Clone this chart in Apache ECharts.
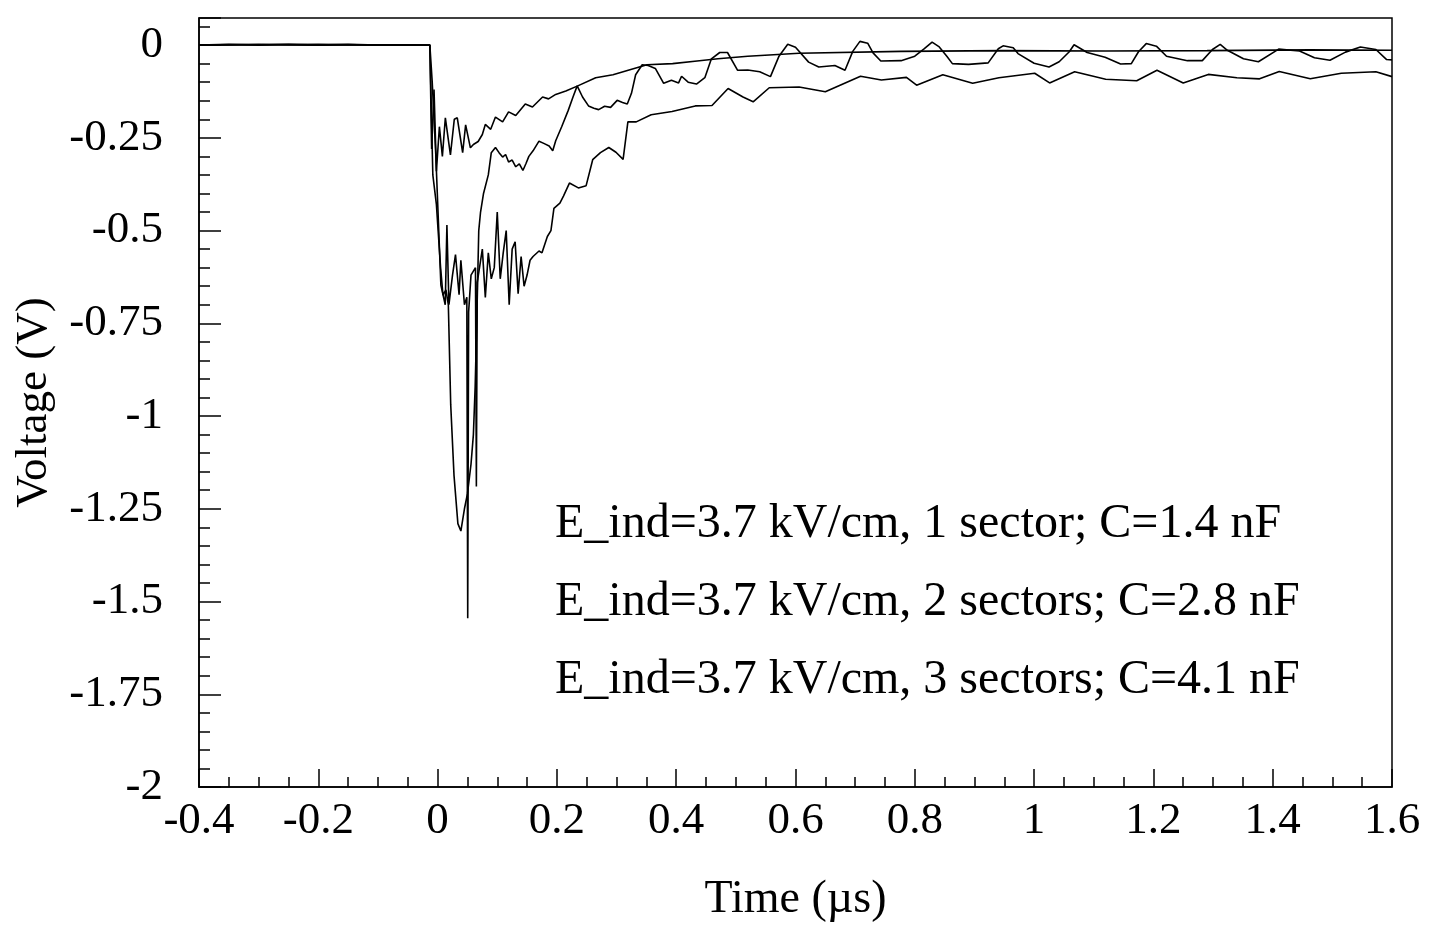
<!DOCTYPE html>
<html>
<head>
<meta charset="utf-8">
<script src="https://cdn.jsdelivr.net/npm/echarts@6/dist/echarts.min.js"></script>
<style>
html,body{margin:0;padding:0;background:#fff;}
#c{width:1433px;height:928px;}
</style>
</head>
<body>
<div id="c"></div>
<script>
// ---- data ----
const seriesNames = [
  'E_ind=3.7 kV/cm, 1 sector; C=1.4 nF',
  'E_ind=3.7 kV/cm, 2 sectors; C=2.8 nF',
  'E_ind=3.7 kV/cm, 3 sectors; C=4.1 nF'
];

// time in µs, voltage in V
const timeA = [-0.4, -0.35, -0.3, -0.25, -0.2, -0.15, -0.1, -0.05, -0.013, -0.01, -0.006, -0.002, 0.003, 0.008, 0.013, 0.0215, 0.028, 0.033, 0.042, 0.047, 0.055, 0.06, 0.068, 0.075, 0.08, 0.089, 0.097, 0.109, 0.119, 0.131, 0.147, 0.159, 0.176, 0.186, 0.198, 0.215, 0.235, 0.265, 0.294, 0.321, 0.351, 0.394, 0.435, 0.47, 0.52, 0.606, 0.777, 0.948, 1.119, 1.29, 1.462, 1.6];
const voltA = [0, 0.002, 0, 0.002, 0, 0.002, 0, 0.001, 0, -0.28, -0.12, -0.34, -0.22, -0.3, -0.196, -0.296, -0.2, -0.196, -0.29, -0.215, -0.277, -0.268, -0.26, -0.241, -0.214, -0.227, -0.194, -0.207, -0.18, -0.19, -0.159, -0.167, -0.14, -0.145, -0.133, -0.124, -0.11, -0.088, -0.08, -0.067, -0.053, -0.05, -0.043, -0.037, -0.03, -0.022, -0.017, -0.015, -0.016, -0.015, -0.013, -0.014];

const timeB = [-0.4, -0.3, -0.2, -0.1, -0.013, -0.008, -0.002, 0.005, 0.009, 0.014,
  0.018, 0.022, 0.0275, 0.034, 0.039, 0.045, 0.05, 0.056, 0.06, 0.063,
  0.066, 0.069, 0.072, 0.077, 0.085, 0.09, 0.097, 0.103, 0.109, 0.114,
  0.119, 0.125, 0.131, 0.137, 0.143, 0.148, 0.153, 0.16, 0.17, 0.178,
  0.187, 0.193, 0.198, 0.208, 0.219, 0.227, 0.234, 0.243, 0.253, 0.262,
  0.27, 0.28, 0.29, 0.301, 0.31, 0.318, 0.325, 0.332, 0.343, 0.353,
  0.365, 0.379, 0.392, 0.404, 0.409, 0.42, 0.434, 0.448, 0.459, 0.473,
  0.486, 0.503, 0.52, 0.54, 0.558, 0.572, 0.587, 0.6, 0.622, 0.639,
  0.666, 0.683, 0.696, 0.708, 0.721, 0.73, 0.743, 0.777, 0.8, 0.815,
  0.829, 0.841, 0.854, 0.863, 0.89, 0.923, 0.94, 0.948, 0.965, 0.973,
  1.0, 1.025, 1.042, 1.059, 1.067, 1.089, 1.119, 1.145, 1.163, 1.175,
  1.188, 1.205, 1.222, 1.257, 1.282, 1.299, 1.312, 1.324, 1.351, 1.376,
  1.41, 1.445, 1.47, 1.496, 1.522, 1.547, 1.573, 1.591, 1.6];
const voltB = [0, 0.002, 0, 0.001, 0, -0.35, -0.43, -0.6, -0.674, -0.66,
  -0.7, -0.97, -1.16, -1.29, -1.31, -1.25, -1.21, -1.13, -1.05, -0.92,
  -0.72, -0.5, -0.45, -0.4, -0.35, -0.29, -0.276, -0.29, -0.302, -0.295,
  -0.315, -0.31, -0.328, -0.32, -0.338, -0.32, -0.3, -0.285, -0.259, -0.265,
  -0.272, -0.285, -0.258, -0.22, -0.176, -0.14, -0.11, -0.14, -0.164, -0.17,
  -0.174, -0.165, -0.168, -0.149, -0.155, -0.159, -0.13, -0.08, -0.053, -0.055,
  -0.063, -0.103, -0.095, -0.102, -0.084, -0.1, -0.105, -0.088, -0.037, -0.02,
  -0.02, -0.068, -0.067, -0.072, -0.085, -0.031, 0.002, -0.006, -0.046, -0.059,
  -0.055, -0.068, -0.017, 0.01, 0.005, -0.021, -0.043, -0.042, -0.03, -0.011,
  0.008, -0.005, -0.031, -0.05, -0.052, -0.048, -0.01, -0.002, -0.007, -0.023,
  -0.049, -0.059, -0.045, -0.018, 0.001, -0.02, -0.033, -0.051, -0.05, -0.018,
  0.004, -0.003, -0.03, -0.042, -0.042, -0.012, 0.002, -0.014, -0.037, -0.045,
  -0.011, -0.016, -0.034, -0.041, -0.019, -0.005, -0.012, -0.039, -0.04];

const timeC = [-0.4, -0.3, -0.2, -0.1, -0.013, -0.009, -0.003, 0.0055, 0.0128, 0.0156,
  0.019, 0.025, 0.03, 0.036, 0.039, 0.045, 0.049, 0.0505, 0.052, 0.056,
  0.0635, 0.065, 0.0665, 0.075, 0.08, 0.085, 0.09, 0.095, 0.1, 0.105,
  0.11, 0.115, 0.12, 0.125, 0.13, 0.135, 0.14, 0.145, 0.15, 0.155,
  0.16, 0.17, 0.175, 0.184, 0.19, 0.195, 0.205, 0.211, 0.221, 0.236,
  0.249, 0.26, 0.273, 0.287, 0.299, 0.311, 0.319, 0.333, 0.358, 0.393,
  0.432, 0.46, 0.487, 0.512, 0.529, 0.556, 0.606, 0.65, 0.709, 0.744,
  0.786, 0.803, 0.847, 0.897, 0.941, 1.001, 1.026, 1.068, 1.12, 1.172,
  1.206, 1.25, 1.292, 1.34, 1.378, 1.411, 1.463, 1.515, 1.573, 1.6];
const voltC = [0, 0.001, 0.002, 0, 0, -0.1, -0.297, -0.647, -0.7, -0.485,
  -0.7, -0.62, -0.565, -0.673, -0.58, -0.7, -0.68, -1.545, -0.72, -0.62,
  -0.6, -1.19, -0.64, -0.55, -0.68, -0.56, -0.63, -0.6, -0.45, -0.63,
  -0.56, -0.5, -0.7, -0.55, -0.53, -0.67, -0.57, -0.65, -0.62, -0.58,
  -0.57, -0.555, -0.56, -0.516, -0.5, -0.44, -0.426, -0.407, -0.372, -0.385,
  -0.379, -0.309, -0.29, -0.276, -0.289, -0.308, -0.207, -0.207, -0.188, -0.179,
  -0.164, -0.163, -0.117, -0.14, -0.153, -0.115, -0.113, -0.126, -0.084, -0.094,
  -0.087, -0.108, -0.08, -0.103, -0.088, -0.076, -0.102, -0.072, -0.092, -0.096,
  -0.068, -0.102, -0.079, -0.088, -0.091, -0.071, -0.091, -0.076, -0.072, -0.085];

// axis ranges / tick steps
const xRange = [-0.4, 1.6];
const xMajorStep = 0.2;
const yRange = [-2, 0.073];
const yMajorStep = 0.25;
const yMinorStep = 0.05;

// ---- chart ----
const FONT = '"Liberation Serif", "Times New Roman", serif';
const pairs = (t, v) => t.map((x, i) => [x, v[i]]);
const isMajor = v => Math.abs(v / yMajorStep - Math.round(v / yMajorStep)) < 1e-6;

const chart = echarts.init(document.getElementById('c'), null, {renderer: 'canvas'});
const lineSeries = [[timeA, voltA], [timeB, voltB], [timeC, voltC]].map((d, i) => ({
  name: seriesNames[i],
  type: 'line',
  data: pairs(d[0], d[1]),
  showSymbol: false,
  symbol: 'none',
  lineStyle: {color: '#000', width: 1.6},
  z: 3
}));

chart.setOption({
  animation: false,
  backgroundColor: '#fff',
  grid: {left: 199, right: 41, top: 18, bottom: 139, show: true,
         borderColor: '#000', borderWidth: 1.5, backgroundColor: 'transparent'},
  xAxis: {
    type: 'value', min: xRange[0], max: xRange[1], interval: xMajorStep,
    name: 'Time (µs)', nameLocation: 'middle', nameGap: 90,
    nameTextStyle: {fontFamily: FONT, fontSize: 46, color: '#000'},
    axisLine: {show: true, onZero: false, lineStyle: {color: '#000', width: 1.5}},
    axisTick: {show: true, inside: true, length: 18, lineStyle: {color: '#000', width: 1.5}},
    minorTick: {show: true, splitNumber: 4, length: 10, lineStyle: {color: '#000', width: 1.5}},
    splitLine: {show: false},
    axisLabel: {fontFamily: FONT, fontSize: 45, color: '#000', margin: 12}
  },
  yAxis: [
    {
      type: 'value', min: yRange[0], max: yRange[1], interval: yMajorStep, position: 'left',
      name: 'Voltage (V)', nameLocation: 'middle', nameRotate: 90, nameGap: 142,
      nameTextStyle: {fontFamily: FONT, fontSize: 45, color: '#000'},
      axisLine: {show: true, onZero: false, lineStyle: {color: '#000', width: 1.5}},
      axisTick: {show: true, inside: true, length: 22, lineStyle: {color: '#000', width: 1.5}},
      splitLine: {show: false},
      axisLabel: {fontFamily: FONT, fontSize: 45, color: '#000', margin: 36,
                  formatter: v => isMajor(v) ? String(v) : ''}
    },
    {
      type: 'value', min: yRange[0], max: yRange[1], interval: yMinorStep, position: 'left', offset: 0,
      axisLine: {show: false, onZero: false},
      axisTick: {show: true, inside: true, length: 11, lineStyle: {color: '#000', width: 1.5}},
      axisLabel: {show: false},
      splitLine: {show: false}
    }
  ],
  graphic: seriesNames.map((n, i) => ({
    type: 'text', left: 555, top: 500 + i * 78, z: 10,
    style: {text: n, font: '48px "Liberation Serif", "Times New Roman", serif', fill: '#000'}
  })),
  series: lineSeries
});
</script>
</body>
</html>
